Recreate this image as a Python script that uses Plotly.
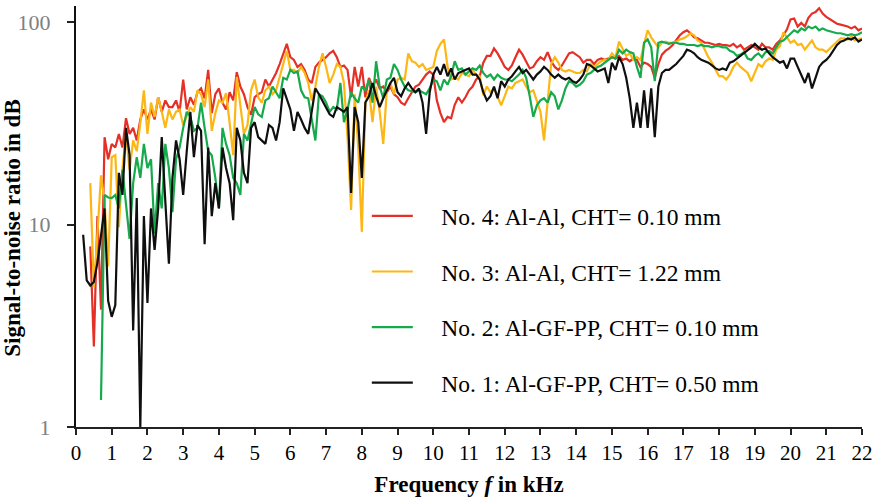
import plotly.graph_objects as go

# Frequency grid in kHz (0.2 ... 22.0, step 0.1)
freq = [round(0.2 + 0.1 * i, 1) for i in range(219)]

# No. 4: Al-Al, CHT = 0.10 mm (red)
snr_no4 = [
    None, None, 7.8, 2.5, 11, 3.8, 27, 21, 25, 24,
    28, 24, 33.5, 28, 30, 26, 33, 37, 33, 37,
    33, 42.5, 36, 41, 38, 38, 41, 36, 52, 37,
    42.5, 39, 45, 47, 42, 58, 35.5, 44, 47, 40,
    37, 45, 41, 56.5, 48, 44, 38, 34.8, 42.5, 44,
    45, 52, 48, 52, 56, 62, 70, 78, 67, 65,
    60, 62, 58, 52, 50, 60, 63, 65, 67, 70,
    72, 67, 60, 61, 58, 42.5, 60, 48, 60, 42.5,
    53, 48, 52, 47, 48, 45, 48, 44, 42.5, 40,
    39, 42, 45, 48, 49, 52, 55, 57, 55, 41,
    35.5, 32, 34, 33.5, 39, 42.5, 40, 42.5, 46, 48,
    52, 54, 63, 68, 68, 74, 70, 65, 60, 58,
    61, 67, 73, 69, 64, 59, 60, 64, 67, 65,
    71, 64, 60, 58, 61, 65, 70, 71, 69, 67,
    63, 65, 65, 62, 65, 66, 65, 66, 67, 66,
    68, 65, 66, 64, 66, 65, 60, 63, 62, 60,
    53, 62, 69, 72, 74, 77, 81, 86, 89, 91,
    88, 84, 83, 81, 79, 79, 78, 77, 78, 77,
    77, 76, 78, 75, 77, 73, 75, 77, 75, 73,
    78, 75, 75, 73, 78, 81, 86, 92, 103, 104,
    95, 99, 95, 105, 110, 112, 117, 110, 106, 103,
    101, 98, 97, 96, 95, 93, 95, 91, 93,
]

# No. 3: Al-Al, CHT = 1.22 mm (yellow)
snr_no3 = [
    None, None, 16, 4.9, 9, 17.5, 13, 6.2, 21.5, 22,
    9.7, 19, 28, 18.6, 26, 23, 31.7, 46, 28, 40,
    34, 42.5, 36, 30, 37, 33, 36, 37, 31, 34,
    38, 36, 46, 44, 38, 52, 29, 35.5, 41, 40,
    44.5, 31.7, 22, 53.5, 38, 28, 31, 46, 52, 42.5,
    40, 46, 48, 44, 46, 54, 62, 72, 58, 58,
    56, 60, 56, 50, 41, 48, 60, 70, 60, 50,
    55, 62, 60, 50, 27, 11.8, 44, 24, 9.2, 40,
    46, 32, 48, 36, 25, 46, 50, 44, 52, 53,
    52, 70, 64, 63, 60, 62, 58, 59, 60, 72,
    78, 82, 60, 52, 53, 52, 56, 55, 54, 58,
    55, 54, 43.6, 48, 45, 47, 42.5, 38.8, 43, 48,
    47, 50, 51, 52, 48, 45, 46, 41, 36, 26,
    40, 62, 67, 63, 58, 57, 58, 57, 56, 56,
    58, 57, 62, 60, 62, 64, 65, 65, 70, 67,
    80, 73, 68, 70, 65, 67, 65, 78, 91, 84,
    79, 75, 79, 80, 79, 79, 80, 82, 83, 85,
    88, 86, 81, 79, 73, 67, 63, 58, 54, 54,
    52, 55, 60, 63, 60, 58, 56, 51, 56, 62,
    60, 64, 66, 65, 73, 76, 89, 84, 79, 81,
    77, 78, 73, 77, 81, 75, 73, 73, 71, 74,
    77, 80, 83, 83, 82, 85, 81, 82, 83,
]

# No. 2: Al-GF-PP, CHT = 0.10 mm (green)
snr_no2 = [
    None, None, None, None, None, 1.36, 14, 13.6, 13.5, 14,
    12, 18.6, 12.2, 8.5, 16, 21.5, 17, 25, 19, 21,
    9, 16, 12, 25, 19, 11.5, 21, 24, 30, 36,
    34, 29, 30, 40, 30, 23, 22, 17, 12, 30,
    25, 22, 17, 16, 14, 28, 26, 32, 38, 35,
    34, 41, 42, 48, 45, 42, 53, 52, 58, 56,
    57, 46, 42.5, 42, 33, 26, 44, 43, 40, 36,
    38, 37, 50, 32, 37, 45, 42, 40, 48, 46,
    52, 40, 64, 48, 42, 52, 53, 62, 58, 52,
    48, 46, 45.5, 45, 46, 45, 44, 47, 52, 51,
    46, 52, 49, 54, 64, 58, 59, 55, 57, 59,
    58, 61, 56, 53.5, 55, 52, 55, 53, 52, 52,
    51, 53, 55, 58, 53, 43, 34, 38.8, 41, 42,
    40, 45, 43, 37, 41, 47, 51, 50, 48, 49,
    51, 55, 56, 58, 60, 61, 63, 65, 67, 66,
    73, 70, 73, 71, 70, 60, 53, 79, 82, 75,
    51, 79, 80, 79, 78, 79, 79, 78, 78, 77,
    77, 77, 76, 77, 76, 76, 75, 76, 76, 75,
    75, 72, 71, 68, 69, 71, 66, 65, 68, 70,
    67, 71, 72, 70, 75, 80, 81, 84, 88, 91,
    89, 93, 91, 95, 93, 95, 91, 93, 91, 90,
    89, 88, 88, 87, 86, 87, 86, 87, 89,
]

# No. 1: Al-GF-PP, CHT = 0.50 mm (black)
snr_no1 = [
    8.9, 5.3, 5.0, 5.2, 6.5, 9.0, 12, 4.2, 3.5, 4.0,
    18, 14, 30, 22, 3.0, 13.5, 1.0, 11, 4.1, 12,
    7.5, 12, 27, 13, 6.4, 17, 26, 21, 14, 23,
    36, 21.5, 31, 29, 8, 24, 11, 16, 12, 24,
    19, 16, 10.5, 30, 26, 18, 16, 30, 32, 27,
    26, 25, 31, 30, 26, 32, 47, 42, 37, 29,
    36, 33, 30, 28, 37, 47, 44, 41, 38, 35,
    34, 38, 37, 36, 38, 14.3, 38, 32, 17, 40,
    43, 50, 43, 38, 42, 46, 50, 53, 45, 43,
    47, 50, 47, 45, 47, 40, 28, 45, 55, 60,
    55, 62, 54, 59, 52, 56, 57, 58, 59, 55,
    55, 52, 45, 41, 43, 48, 42, 51, 48, 52,
    54, 57, 60, 56, 58, 55, 52, 55, 57, 60,
    58, 55, 53, 55, 53, 52, 53, 51, 50, 52,
    55, 62, 61, 59, 57, 58, 59, 50, 63, 58,
    67, 62, 53, 42, 30, 40, 30, 46, 30, 47,
    27, 48, 56, 58, 58, 60, 62, 65, 68, 73,
    72, 70, 67, 65, 64, 63, 61, 59, 58, 59,
    58, 63, 64, 66, 68, 70, 72, 75, 78, 75,
    73, 74, 70, 67, 65, 63, 64, 59, 66, 66,
    60, 55, 50, 56, 47, 53, 60, 63, 65, 68,
    72, 77, 80, 81, 83, 82, 84, 80, 82,
]

PAD = "\u00a0" * 4
series = [
    ("No. 4: Al-Al, CHT= 0.10 mm", snr_no4, "rgb(228,48,38)"),
    ("No. 3: Al-Al, CHT= 1.22 mm", snr_no3, "rgb(253,183,20)"),
    ("No. 2: Al-GF-PP, CHT= 0.10 mm", snr_no2, "rgb(22,170,76)"),
    ("No. 1: Al-GF-PP, CHT= 0.50 mm", snr_no1, "rgb(15,15,15)"),
]

x_ticks = list(range(0, 23))
y_ticks = [1, 10, 100]
y_ticktext = ["1", "10", "100"]

FONT = "Liberation Serif"

fig = go.Figure()
for i, (name, vals, col) in enumerate(series):
    fig.add_trace(go.Scatter(
        x=freq, y=vals, mode="lines", name=PAD + name,
        line=dict(color=col, width=2.2),
        legendgroup=f"g{i}",
        connectgaps=False,
    ))

fig.update_layout(
    width=877, height=500,
    margin=dict(l=76, r=15, t=6, b=73, autoexpand=False),
    paper_bgcolor="white", plot_bgcolor="white",
    font=dict(family=FONT, size=21, color="black"),
    showlegend=True,
    legend=dict(
        x=0.37, y=0.553, xanchor="left", yanchor="top",
        font=dict(family=FONT, size=23.5, color="black"),
        bgcolor="rgba(0,0,0,0)", borderwidth=0,
        tracegroupgap=22, itemwidth=41,
    ),
    xaxis=dict(
        range=[0, 22], tickmode="array", tickvals=x_ticks,
        ticks="outside", ticklen=6, tickwidth=1.5, tickcolor="#222",
        showline=True, linecolor="#222", linewidth=1.8,
        showgrid=False, zeroline=False, automargin=False,
        tickfont=dict(family=FONT, size=21, color="black"),
        title=dict(text="<b>Frequency <i>f</i> in kHz</b>",
                   font=dict(family=FONT, size=23, color="black"), standoff=12),
    ),
    yaxis=dict(
        type="log", range=[0, 2.079],
        tickmode="array", tickvals=y_ticks, ticktext=y_ticktext,
        ticks="outside", ticklen=7, tickwidth=1.5, tickcolor="#222",
        showline=True, linecolor="#111", linewidth=2,
        showgrid=False, zeroline=False, automargin=False,
        tickfont=dict(family=FONT, size=22, color="#808080"),
        ticklabelstandoff=12,
        title=dict(text="<b>Signal-to-noise ratio in dB" + "\u00a0" * 4 + "</b>",
                   font=dict(family=FONT, size=23, color="black"), standoff=0),
    ),
)

fig.write_html("out.html")
